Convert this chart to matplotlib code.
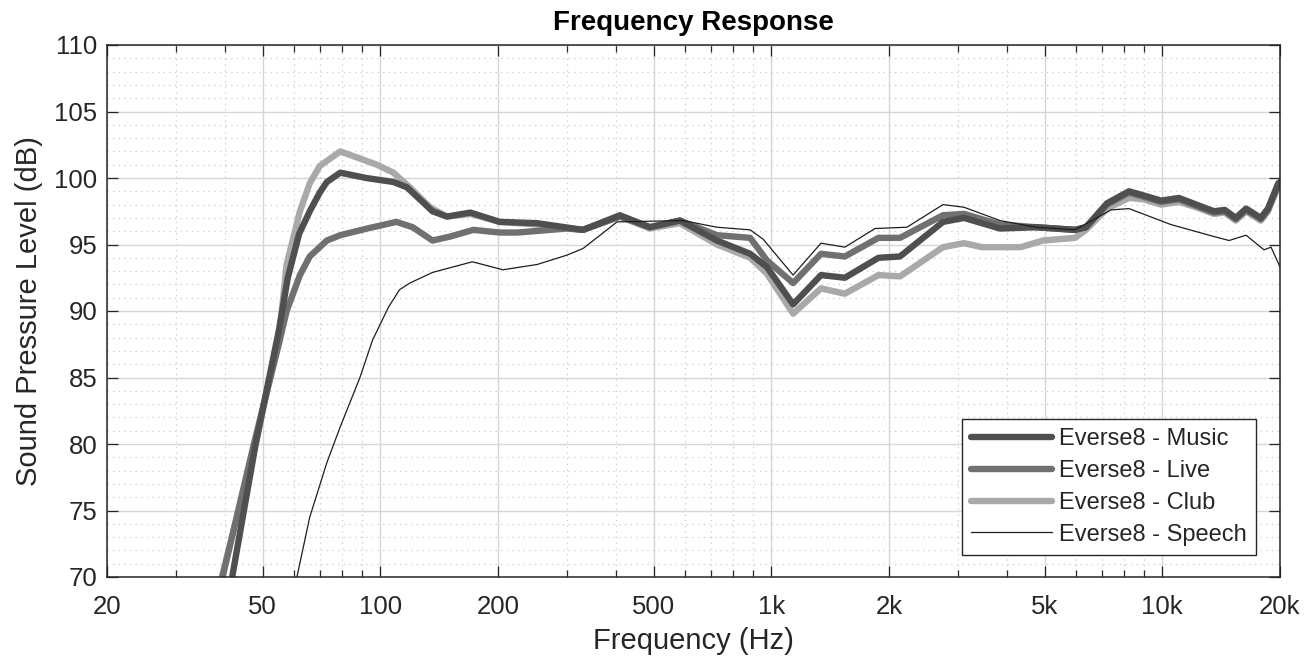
import matplotlib.pyplot as plt
from matplotlib.ticker import FixedLocator, NullFormatter

# --- data (Hz, dB SPL) ---
music_f = [41.8, 48, 55, 58, 62, 66, 70, 73, 79, 92, 108, 117, 136, 148, 170, 202, 252, 330,
           410, 489, 584, 726, 883, 975, 1137, 1340, 1542, 1880, 2134, 2749, 3111, 3845,
           4755, 5983, 6380, 7220, 8220, 8930, 9930, 11030, 12220, 13550, 14450, 15410,
           16380, 17860, 18630, 19800, 20000]
music_db = [70, 80, 88.5, 92.5, 95.8, 97.5, 98.9, 99.7, 100.4, 100.0, 99.7, 99.3, 97.5, 97.1,
            97.4, 96.7, 96.6, 96.1, 97.2, 96.3, 96.8, 95.3, 94.3, 93.3, 90.5, 92.7, 92.5,
            94.0, 94.1, 96.7, 97.0, 96.2, 96.3, 96.1, 96.3, 98.1, 99.0, 98.7, 98.3, 98.5,
            98.0, 97.5, 97.6, 97.0, 97.7, 97.0, 97.7, 99.6, 99.7]

live_f = [39.5, 47.5, 55, 57.6, 62.3, 66, 73, 79, 92.5, 110, 121, 136, 151, 173, 202, 224,
          300, 330, 410, 489, 584, 726, 883, 975, 1137, 1340, 1542, 1880, 2134, 2749, 3111,
          3845, 4755, 5983, 6380, 7220, 8220, 8930, 9930, 11030, 12220, 13550, 14450, 15410,
          16380, 17860, 18630, 19800, 20000]
live_db = [70, 80, 87.5, 90.0, 92.7, 94.1, 95.3, 95.7, 96.2, 96.7, 96.3, 95.3, 95.6, 96.1,
           95.9, 95.9, 96.2, 96.1, 97.1, 96.3, 96.8, 95.7, 95.5, 93.8, 92.1, 94.3, 94.1,
           95.5, 95.5, 97.2, 97.3, 96.5, 96.3, 96.1, 96.3, 98.0, 98.9, 98.6, 98.2, 98.4,
           97.9, 97.4, 97.5, 96.9, 97.6, 96.9, 97.6, 99.5, 99.6]

club_f = [39.3, 48, 55.3, 57.6, 62.3, 66, 70, 79, 98, 108, 119, 134, 148, 170, 202, 252, 330,
          410, 489, 584, 726, 883, 975, 1137, 1340, 1542, 1880, 2134, 2749, 3111, 3459,
          4350, 4950, 5983, 6380, 7220, 8220, 8930, 9930, 11030, 12220, 13550, 14450,
          15410, 16380, 17860, 18630, 19800, 20000]
club_db = [70, 80, 88.5, 93.5, 97.5, 99.6, 100.9, 102.0, 101.0, 100.4, 99.3, 97.8, 97.1,
           97.3, 96.7, 96.5, 96.1, 97.1, 96.2, 96.6, 95.0, 94.0, 92.8, 89.8, 91.7, 91.3,
           92.7, 92.6, 94.8, 95.1, 94.8, 94.8, 95.3, 95.5, 96.1, 97.7, 98.5, 98.4, 98.0,
           98.2, 97.8, 97.3, 97.4, 96.8, 97.5, 96.8, 97.5, 99.4, 99.6]

speech_f = [61.2, 66, 73, 79, 88.7, 95.5, 105, 112, 119, 136, 172, 206, 252, 300, 330, 365,
            403, 594, 726, 883, 953, 1137, 1340, 1542, 1842, 2223, 2749, 3111, 3845, 4755,
            5983, 7395, 8220, 10520, 13550, 14820, 16380, 18200, 18970, 19800, 20000]
speech_db = [70, 74.5, 78.6, 81.3, 85.0, 87.8, 90.3, 91.6, 92.1, 92.9, 93.7, 93.1, 93.5,
             94.2, 94.7, 95.7, 96.7, 96.8, 96.3, 96.1, 95.4, 92.7, 95.1, 94.8, 96.2, 96.3,
             98.0, 97.8, 96.8, 96.3, 96.1, 97.6, 97.7, 96.5, 95.6, 95.3, 95.7, 94.6, 94.8,
             93.6, 93.3]

major_ticks = [20, 50, 100, 200, 500, 1000, 2000, 5000, 10000, 20000]
major_labels = ['20', '50', '100', '200', '500', '1k', '2k', '5k', '10k', '20k']
minor_ticks = [30, 40, 60, 70, 80, 90, 300, 400, 600, 700, 800, 900,
               3000, 4000, 6000, 7000, 8000, 9000]

plt.rcParams['font.family'] = ['Liberation Sans', 'DejaVu Sans']
txt = '#262626'

fig = plt.figure(figsize=(13.15, 6.66), dpi=100)
ax = fig.add_axes([107 / 1315, 1 - 577 / 666, (1280 - 107) / 1315, (577 - 45) / 666])

ax.plot(club_f, club_db, color='#a9a9a9', lw=4.6, solid_capstyle='round', label='Everse8 - Club')
ax.plot(live_f, live_db, color='#707070', lw=4.6, solid_capstyle='round', label='Everse8 - Live')
ax.plot(music_f, music_db, color='#4f4f4f', lw=4.6, solid_capstyle='round', label='Everse8 - Music')
ax.plot(speech_f, speech_db, color='#1e1e1e', lw=0.9, label='Everse8 - Speech')

ax.set_xscale('log')
ax.set_xlim(20, 20000)
ax.set_ylim(70, 110)
ax.xaxis.set_major_locator(FixedLocator(major_ticks))
ax.xaxis.set_minor_locator(FixedLocator(minor_ticks))
ax.xaxis.set_minor_formatter(NullFormatter())
ax.set_xticklabels(major_labels)
ax.set_yticks(range(70, 111, 5))
ax.yaxis.set_minor_locator(FixedLocator(range(70, 111, 1)))

ax.grid(which='major', color='#d6d6d6', lw=1.0, ls='-')
ax.grid(which='minor', color='#cacaca', lw=0.9, ls=(0, (1, 3.5)))
ax.set_axisbelow(True)

ax.tick_params(which='both', direction='in', top=True, right=True, colors=txt,
               labelsize=18.5, width=0.9)
ax.tick_params(which='major', length=8)
ax.tick_params(axis='x', which='minor', length=5)
ax.tick_params(axis='y', which='minor', length=0)
ax.tick_params(axis='x', pad=13)
ax.tick_params(axis='y', pad=7)
for s in ax.spines.values():
    s.set_color(txt)
    s.set_linewidth(1.1)

ax.set_xlabel('Frequency (Hz)', fontsize=21, color=txt, labelpad=6)
ax.set_ylabel('Sound Pressure Level (dB)', fontsize=21, color=txt, labelpad=8)
ax.set_title('Frequency Response', fontsize=20, fontweight='bold', color='black', pad=11)

h, l = ax.get_legend_handles_labels()
order = [2, 1, 0, 3]
leg = ax.legend([h[i] for i in order], [l[i] for i in order],
                loc='lower right', bbox_to_anchor=(0.9795, 0.041), fontsize=17,
                fancybox=False, framealpha=1, edgecolor='#262626', handlelength=3.4,
                handletextpad=0.3, labelspacing=0.42, borderpad=0.4, borderaxespad=0)
leg.get_frame().set_linewidth(1.0)
for t in leg.get_texts():
    t.set_color(txt)

fig.savefig('out.png', dpi=100)
